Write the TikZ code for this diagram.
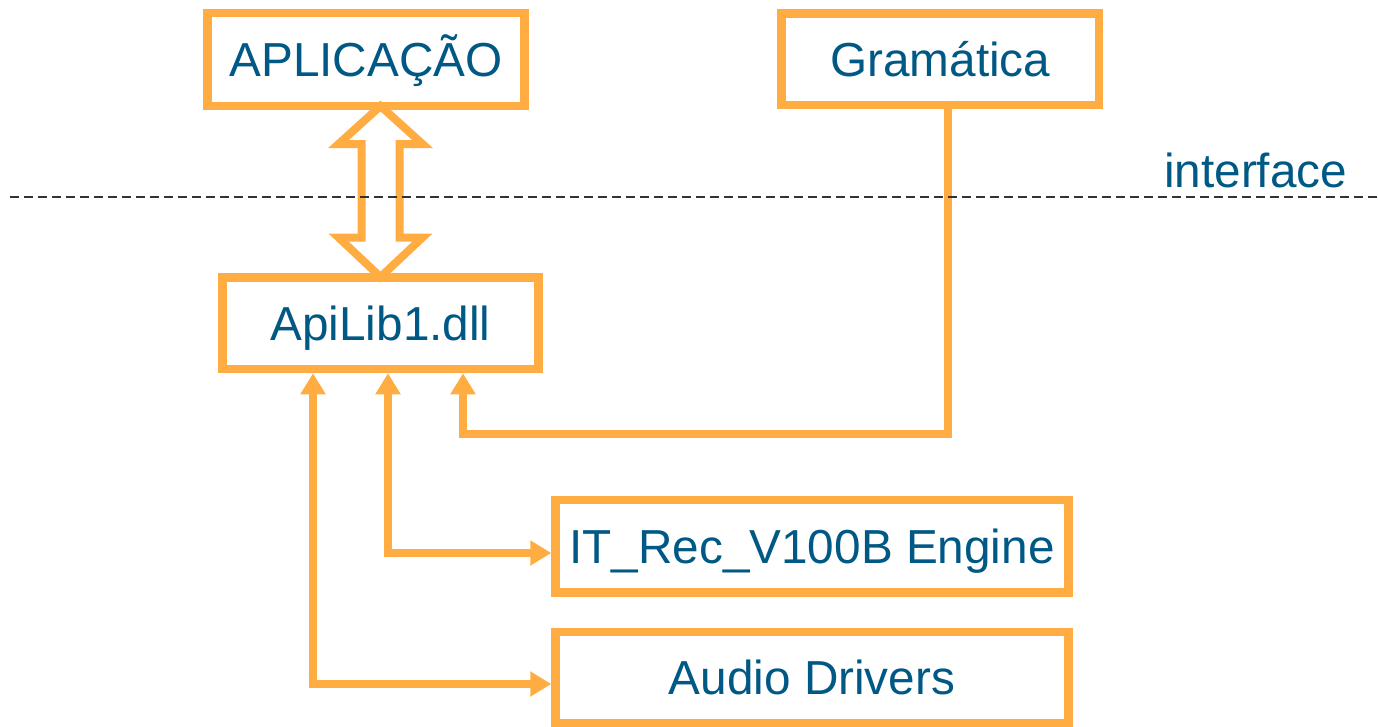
\documentclass[tikz,border=0pt]{standalone}
\usepackage{fontspec}
\setmainfont{Liberation Sans}
\usetikzlibrary{arrows.meta}
\definecolor{orng}{RGB}{255,173,66}
\definecolor{txtblue}{RGB}{0,88,133}
\definecolor{dashgray}{RGB}{51,51,51}
\begin{document}
\begin{tikzpicture}[x=1pt,y=-1pt,
  box/.style={draw=orng, line width=8.5pt, fill=white, inner sep=0pt,
    text=txtblue, text height=34.1pt, text depth=0pt,
    font=\fontsize{47.7}{56}\selectfont},
  conn/.style={draw=orng, line width=7.5pt, line join=miter},
  tip/.style={-{Triangle[length=21pt,width=24pt]}},
  bothtip/.style={{Triangle[length=21pt,width=24pt]}-{Triangle[length=21pt,width=24pt]}},
  bigarrow/.style={draw=orng, line width=8pt, line join=miter, fill=white},
  sep/.style={draw=dashgray, line width=2pt, dash pattern=on 9pt off 5pt},
  lbl/.style={text=txtblue, inner sep=0pt, font=\fontsize{47.7}{56}\selectfont}
]
\useasboundingbox (0,0) rectangle (1378,726);

% boxes
\node[box, minimum width=317pt, minimum height=93pt] (app) at (366,59.5) {APLICAÇÃO};
\node[box, minimum width=317.5pt, minimum height=91.5pt] (gram) at (940.25,59.25) {Gramática};
\node[box, minimum width=316pt, minimum height=91.5pt] (api) at (380.5,323.25) {ApiLib1.dll};
\node[box, minimum width=513pt, minimum height=92.5pt] (eng) at (812,546.25) {IT\_Rec\_V100B Engine};
\node[box, minimum width=513pt, minimum height=91pt] (aud) at (812,677.5) {Audio Drivers};

% label
\node[lbl, anchor=base west] (iface) at (1164,187) {interface};

% double hollow arrow between APLICAÇÃO and ApiLib1.dll
\draw[bigarrow] (380.5,106) -- (422.5,144) -- (399.5,144) -- (399.5,237.5)
  -- (422.5,237.5) -- (380.5,277) -- (338.5,237.5) -- (361.5,237.5)
  -- (361.5,144) -- (338.5,144) -- cycle;

% connectors
\coordinate (g1) at (948,434);
\coordinate (g2) at (463,434);
\draw[conn, tip] (gram.south -| g1) -- (g1) -- (g2) -- (api.south -| g2);

\coordinate (e1) at (388,553);
\draw[conn, bothtip] (api.south -| e1) -- (e1) -- (e1 -| eng.west);

\coordinate (a1) at (313,684);
\draw[conn, bothtip] (api.south -| a1) -- (a1) -- (a1 -| aud.west);

% dashed interface line
\coordinate (dl) at (10,197);
\coordinate (dr) at (1378,197);
\draw[sep] (dl) -- (dr);
\end{tikzpicture}
\end{document}
